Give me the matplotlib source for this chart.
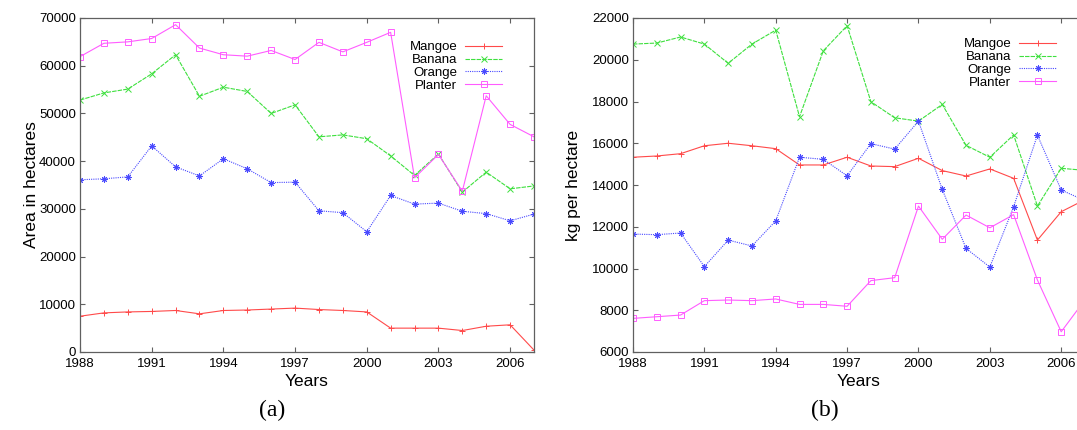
#!/usr/bin/python
'''
Area and yield of four fruit crops, 1988-2007, in two side-by-side panels
drawn in a gnuplot-like style.
'''

import matplotlib
matplotlib.use('Agg')
import matplotlib.pyplot as plt

years = list(range(1988, 2008))
crops = ['Mangoe', 'Banana', 'Orange', 'Planter']

area_mangoe = [7500, 8200, 8400, 8500, 8700, 8000, 8700, 8800, 9000, 9200,
               8900, 8700, 8400, 5000, 5000, 5000, 4500, 5400, 5700, 400]
area_banana = [52800, 54300, 55100, 58300, 62300, 53600, 55500, 54600, 50000, 51800,
               45100, 45500, 44700, 41100, 37000, 41500, 33500, 37700, 34200, 34800]
area_orange = [36100, 36300, 36700, 43200, 38800, 36900, 40500, 38400, 35500, 35600,
               29600, 29200, 25200, 32800, 31000, 31200, 29500, 29000, 27500, 28900]
area_planter = [61900, 64700, 65000, 65700, 68600, 63700, 62300, 62000, 63200, 61300,
                64900, 62900, 64900, 67000, 36500, 41400, 33700, 53700, 47700, 45100]

yield_mangoe = [15330, 15390, 15500, 15880, 16000, 15880, 15740, 14960, 14960, 15330,
                14910, 14880, 15280, 14690, 14430, 14770, 14320, 11360, 12720, 13300]
yield_banana = [20750, 20800, 21090, 20750, 19830, 20750, 21420, 17270, 20430, 21630,
                17990, 17220, 17060, 17860, 15900, 15330, 16400, 12990, 14800, 14700]
yield_orange = [11650, 11620, 11700, 10090, 11360, 11080, 12280, 15330, 15230, 14440,
                15980, 15720, 17060, 13790, 10960, 10070, 12960, 16390, 13760, 13250]
yield_planter = [7610, 7690, 7770, 8460, 8490, 8460, 8540, 8280, 8280, 8190,
                 9420, 9560, 12990, 11400, 12560, 11950, 12580, 9450, 6970, 8500]

xticks = list(range(1988, 2007, 3))
area_ticks = list(range(0, 70001, 10000))
yield_ticks = list(range(6000, 22001, 2000))

# gnuplot-ish line styles: colour, dash pattern, point type
styles = [
    dict(color='#ff4a4a', linestyle='-', marker='+'),
    dict(color='#3ee03e', linestyle=(0, (4, 1)), marker='x'),
    dict(color='#4a4aff', linestyle=(0, (1, 1)), marker=(8, 2, 0)),
    dict(color='#ff5cff', linestyle='-', marker='s', markerfacecolor='none'),
]

plt.rcParams['font.family'] = ['Liberation Sans', 'DejaVu Sans']


def styleAxes(ax, ticks, ylim, ylabel, ypad):
    '''gray box, inward mirrored ticks, year ticks every 3 years'''
    ax.set_xlim(1988, 2007)
    ax.set_ylim(*ylim)
    ax.set_xticks(xticks)
    ax.set_xticklabels([str(y) for y in xticks])
    ax.set_yticks(ticks)
    ax.set_yticklabels([str(t) for t in ticks])
    ax.tick_params(direction='in', top=True, right=True, length=3.5,
                   width=0.8, color='#606060', labelsize=9.5)
    ax.tick_params(axis='x', pad=4)
    ax.tick_params(axis='y', pad=3)
    for s in ax.spines.values():
        s.set_color('#606060')
        s.set_linewidth(0.9)
    ax.set_xlabel('Years', fontsize=12.5, labelpad=3)
    ax.set_ylabel(ylabel, fontsize=12.5, labelpad=ypad)


def plotPanel(ax, series):
    for name, vals, st in zip(crops, series, styles):
        ax.plot(years, vals, label=name, linewidth=0.8, markersize=4.5,
                markeredgewidth=0.7, **st)


fig = plt.figure(figsize=(10.77, 4.30), dpi=100)
axA = fig.add_axes([80 / 1077, 1 - 352 / 430, 454 / 1077, 334 / 430])
axB = fig.add_axes([633 / 1077, 1 - 352 / 430, 452 / 1077, 334 / 430])

plotPanel(axA, [area_mangoe, area_banana, area_orange, area_planter])
styleAxes(axA, area_ticks, (0, 70000), 'Area in hectares', 0)

plotPanel(axB, [yield_mangoe, yield_banana, yield_orange, yield_planter])
styleAxes(axB, yield_ticks, (6000, 22000), 'kg per hectare', 8)

legA = axA.legend(loc='upper right', bbox_to_anchor=((502 - 80) / 454, 1 - 23 / 334),
                  frameon=False, markerfirst=False, fontsize=9.5,
                  handlelength=2.8, handletextpad=0.6, labelspacing=0.05,
                  borderpad=0, borderaxespad=0)
legB = axB.legend(loc='upper right', bbox_to_anchor=((1056 - 633) / 452, 1 - 20 / 334),
                  frameon=False, markerfirst=False, fontsize=9.5,
                  handlelength=2.8, handletextpad=0.6, labelspacing=0.05,
                  borderpad=0, borderaxespad=0)

fig.text(272 / 1077, 1 - 410 / 430, '(a)', family='Liberation Serif',
         fontsize=17, ha='center', va='center')
fig.text(825 / 1077, 1 - 410 / 430, '(b)', family='Liberation Serif',
         fontsize=17, ha='center', va='center')

fig.savefig('out.png', dpi=100)
